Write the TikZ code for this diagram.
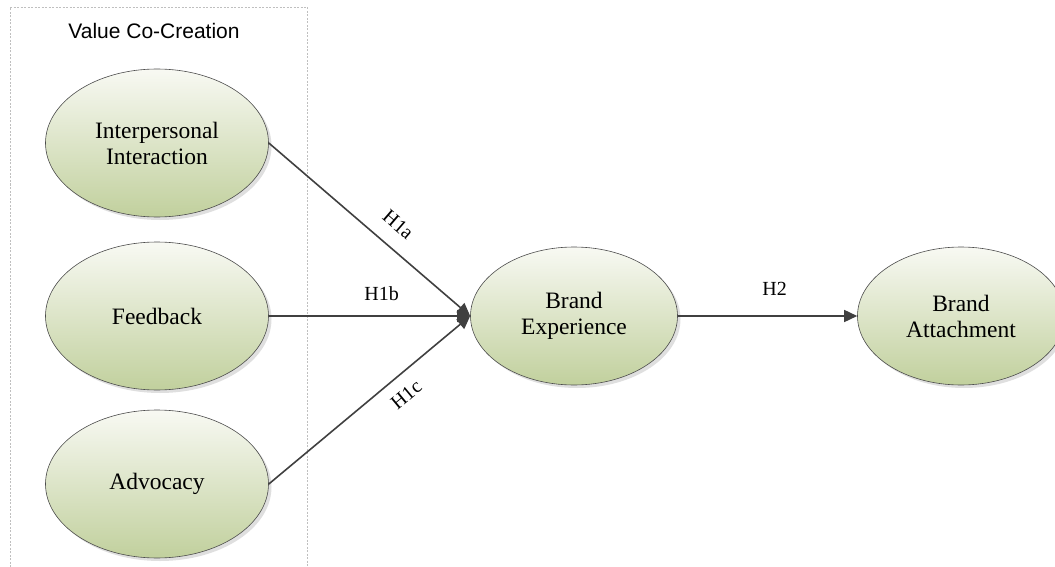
\documentclass[tikz,border=0pt]{standalone}
\usepackage{fontspec}
\setmainfont{Liberation Serif}
\newfontfamily\titlefont{Liberation Sans}
\usetikzlibrary{shapes.geometric, arrows.meta, positioning, shadows}
\definecolor{ellTop}{RGB}{248,249,243}
\definecolor{ellBot}{RGB}{193,208,157}
\definecolor{lineGray}{RGB}{64,64,64}

\begin{document}
\begin{tikzpicture}[x=1pt, y=-1pt, >={Triangle[length=13pt,width=12pt]},
    construct/.style={draw=black!70, line width=0.6pt, ellipse, top color=ellTop, bottom color=ellBot, align=center, font=\fontsize{23.5}{26}\selectfont, drop shadow={shadow xshift=3pt, shadow yshift=-3pt, fill=black!25, opacity=0.5}},
    link/.style={->, line width=1.6pt, draw=lineGray},
    hyp/.style={font=\fontsize{20}{24}\selectfont, inner sep=2pt}]
    \useasboundingbox (0,0) rectangle (1055,567);

    % Value co-creation group
    \draw [gray!50, line width=0.6pt, dash pattern=on 2pt off 1.5pt] (10,567) -- (10,7) -- (307,7) -- (307,567);
    \node [font=\titlefont\fontsize{21}{24}\selectfont] (vcc) at (154,31) {Value Co-Creation};

    \node [construct, minimum width=223pt, minimum height=148pt] (ii) at (157,143) {Interpersonal\\ Interaction};
    \node [construct, minimum width=223pt, minimum height=148pt] (fb) at (157,316) {Feedback};
    \node [construct, minimum width=223pt, minimum height=148pt] (adv) at (157,484) {Advocacy};

    \node [construct, minimum width=207pt, minimum height=138pt] (be) at (574,316) {Brand\\ Experience};
    \node [construct, minimum width=207pt, minimum height=138pt] (ba) at (961,316) {Brand\\ Attachment};

    % Hypotheses
    \draw [link] (ii.east) -- node [hyp, sloped, above=13pt, pos=0.57] (h1a) {H1a} (be.west);
    \draw [link] (fb.east) -- node [hyp, above=12.5pt, pos=0.56] (h1b) {H1b} (be.west);
    \draw [link] (adv.east) -- node [hyp, sloped, below=10pt, pos=0.62] (h1c) {H1c} (be.west);
    \draw [link] (be.east) -- node [hyp, above=17.5pt, pos=0.54] (h2) {H2} (ba.west);
\end{tikzpicture}
\end{document}
